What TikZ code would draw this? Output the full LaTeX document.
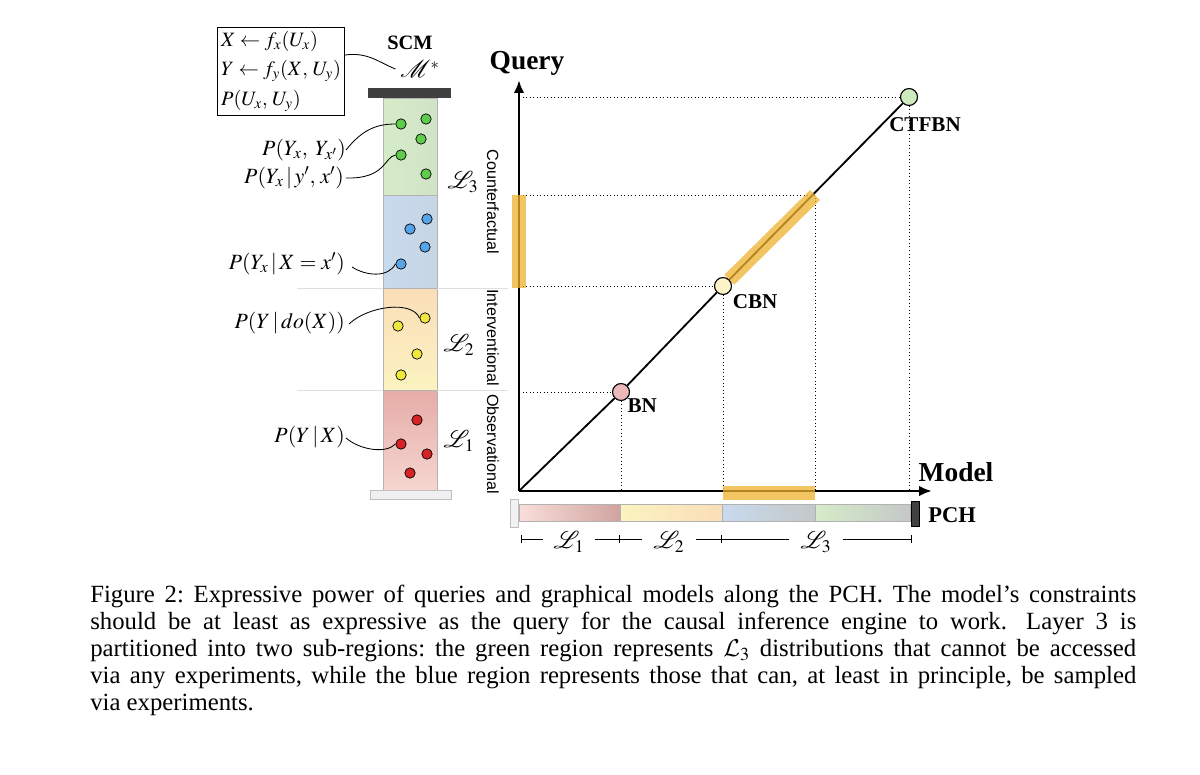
\documentclass[tikz,border=0pt]{standalone}
\usepackage{mathptmx}
\usepackage{mathrsfs}
\usepackage[no-math]{fontspec}
\setmainfont{Liberation Serif}
\setsansfont{Liberation Sans}
\DeclareMathAlphabet{\mathcal}{OMS}{cmsy}{m}{n}
\usepackage{tikz}
\usetikzlibrary{positioning}
\usetikzlibrary{arrows.meta}

\definecolor{gdot}{RGB}{95,205,75}
\definecolor{bdot}{RGB}{85,165,235}
\definecolor{ydot}{RGB}{240,232,60}
\definecolor{rdot}{RGB}{215,35,35}
\definecolor{hlcol}{RGB}{238,178,45}
\definecolor{bncol}{RGB}{235,185,185}
\definecolor{cbncol}{RGB}{252,244,200}
\definecolor{ctfcol}{RGB}{205,235,190}
\definecolor{gtint}{RGB}{214,236,200}
\definecolor{btint}{RGB}{200,218,238}
\definecolor{ytop}{RGB}{250,222,185}
\definecolor{ybot}{RGB}{251,243,192}
\definecolor{rtop}{RGB}{230,172,168}
\definecolor{rbot}{RGB}{246,214,208}
\definecolor{greyish}{RGB}{196,200,200}

\begin{document}
\begin{tikzpicture}[x=0.25mm,y=-0.25mm,
  ball/.style={circle,draw,inner sep=0pt,minimum size=2.6mm,line width=0.5pt},
  model/.style={circle,draw,inner sep=0pt,minimum size=4.2mm,line width=0.7pt},
  lbl/.style={font=\bfseries\fontsize{15}{18}\selectfont},
  eq/.style={font=\fontsize{15.5}{18}\selectfont,inner sep=0pt},
  lname/.style={font=\fontsize{17}{20}\selectfont},
  side/.style={font=\sffamily\fontsize{11.5}{14}\selectfont,rotate=-90},
  hl/.style={line width=3.5mm,draw=hlcol,opacity=0.75},
  guide/.style={dotted,line width=0.5pt},
  lay/.style={draw=gray!60,line width=0.5pt}]
\useasboundingbox (0,0) rectangle (1200,775);

% structural causal model
\node[draw,line width=0.7pt,align=left,anchor=north west,inner xsep=0.9mm,inner ysep=0.9mm,
  font=\fontsize{14.5}{21}\selectfont] (eqs) at (217,27)
  {$X \leftarrow f_x(U_x)$\\ $Y \leftarrow f_y(X,\, U_y)$\\ $P(U_x,\, U_y)$};
\node[font=\bfseries\fontsize{14.5}{17}\selectfont] (scm) at (410,43) {SCM};
\node[font=\fontsize{16}{19}\selectfont] (mstar) at (420,69) {$\mathscr{M}^{*}$};
\draw[line width=0.6pt] (eqs.east |- 0,55) .. controls (368,52) and (378,62) .. (mstar.west);

% the layers
\draw[lay,left color=gtint,right color=gtint!75!greyish] (383,98) rectangle (437,195);
\draw[lay,left color=btint,right color=btint!75!greyish] (383,195) rectangle (437,288);
\draw[lay,top color=ytop,bottom color=ybot] (383,288) rectangle (437,390);
\draw[lay,top color=rtop,bottom color=rbot] (383,390) rectangle (437,490);
\fill[black!75] (368,88) rectangle (451,98);
\draw[fill=gray!12,draw=gray!50] (370,490) rectangle (451,499);
\draw[gray!25,line width=0.6pt] (297,288) -- (383,288) (437,288) -- (508,288);
\draw[gray!25,line width=0.6pt] (297,390) -- (383,390) (437,390) -- (508,390);

\node[ball,fill=gdot] (g1) at (401,124) {};
\node[ball,fill=gdot] (g2) at (426,119) {};
\node[ball,fill=gdot] (g3) at (421,139) {};
\node[ball,fill=gdot] (g4) at (401,155) {};
\node[ball,fill=gdot] (g5) at (426,174) {};
\node[ball,fill=bdot] (b1) at (427,219) {};
\node[ball,fill=bdot] (b2) at (410,229) {};
\node[ball,fill=bdot] (b3) at (425,247) {};
\node[ball,fill=bdot] (b4) at (401,264) {};
\node[ball,fill=ydot] (y1) at (425,318) {};
\node[ball,fill=ydot] (y2) at (398,326) {};
\node[ball,fill=ydot] (y3) at (417,354) {};
\node[ball,fill=ydot] (y4) at (401,375) {};
\node[ball,fill=rdot] (r1) at (417,420) {};
\node[ball,fill=rdot] (r2) at (401,444) {};
\node[ball,fill=rdot] (r3) at (427,454) {};
\node[ball,fill=rdot] (r4) at (410,473) {};

\node[lname] (l3) at (463,182) {$\mathscr{L}_3$};
\node[lname] (l2) at (459,345) {$\mathscr{L}_2$};
\node[lname] (l1) at (459,441) {$\mathscr{L}_1$};

\node[eq,anchor=east] (q1) at (346,150) {$P(Y_x,\; Y_{x'})$};
\node[eq,anchor=east] (q2) at (344,178) {$P(Y_x\,|\,y',\, x')$};
\node[eq,anchor=east] (q3) at (345,264) {$P(Y_x\,|\,X = x')$};
\node[eq,anchor=east] (q4) at (345,323) {$P(Y\,|\,do(X))$};
\node[eq,anchor=east] (q5) at (345,437) {$P(Y\,|\,X)$};
\draw[line width=0.6pt] (q1.east) .. controls (362,130) and (376,124) .. (g1.west);
\draw[line width=0.6pt] (q2.east) ++(2,0) .. controls (386,179) and (384,157) .. (g4.west);
\draw[line width=0.6pt] (q3.east) ++(7,3) .. controls (366,276) and (388,278) .. (b4.west);
\draw[line width=0.6pt] (q4.east) ++(4,1) .. controls (368,306) and (412,300) .. (y1.west);
\draw[line width=0.6pt] (q5.east) ++(1,1) .. controls (360,450) and (386,454) .. (r2.west);

\node[side] (cf) at (493,202) {Counterfactual};
\node[side] (iv) at (493,338) {Interventional};
\node[side] (ob) at (493,444) {Observational};

% query vs model
\coordinate (O) at (519,491);
\coordinate (qtop) at (519,80);
\coordinate (mend) at (932,491);
\node[model,fill=bncol,label={[lbl,anchor=north west,inner sep=0pt]south east:BN}] (bn) at (621,392) {};
\node[model,fill=cbncol,label={[lbl,anchor=north west,inner sep=0pt,xshift=0.8mm,yshift=-0.5mm]south east:CBN}] (cbn) at (723,286) {};
\node[model,fill=ctfcol,label={[lbl,anchor=north,inner sep=0pt,xshift=4mm,yshift=-2.8mm]south:CTFBN}] (ctf) at (909,97) {};
\coordinate (c3) at (815,195);

\draw[guide] (O |- bn) -- (bn) -- (bn |- O);
\draw[guide] (O |- cbn) -- (cbn) -- (cbn |- O);
\draw[guide] (O |- c3) -- (c3) -- (c3 |- O);
\draw[guide] (O |- ctf) -- (ctf) -- (ctf |- O);

\draw[line width=1.3pt] (O) -- (bn) -- (cbn) -- (ctf);
\draw[-{Latex[length=3.2mm,width=2.6mm]},line width=2pt] (O) -- (qtop);
\draw[-{Latex[length=3.2mm,width=2.6mm]},line width=2pt] (O) -- (mend);
\draw[hl] (519,195) -- (519,288);
\draw[hl] (cbn |- 0,493) -- (c3 |- 0,493);
\draw[hl] (cbn) -- (c3);
\node[model,fill=bncol] at (bn) {};
\node[model,fill=cbncol] at (cbn) {};
\node[model,fill=ctfcol] at (ctf) {};

\node[font=\bfseries\fontsize{19.5}{23}\selectfont] (query) at (527,63) {Query};
\node[font=\bfseries\fontsize{19.5}{23}\selectfont] (modl) at (956,472) {Model};
\node[font=\bfseries\fontsize{16}{19}\selectfont] (pch) at (952,515) {PCH};

% the hierarchy bar
\draw[lay,left color=rbot!80,right color=rtop!80!gray] (519,504) rectangle (620,521);
\draw[lay,left color=ybot,right color=ytop] (620,504) rectangle (722,521);
\draw[lay,left color=btint,right color=greyish] (722,504) rectangle (815,521);
\draw[lay,left color=gtint,right color=greyish] (815,504) rectangle (910,521);
\draw[fill=gray!10,draw=gray!50] (510,499) rectangle (518,527);
\draw[fill=black!75,draw=black] (911,501) rectangle (919,526);

\coordinate (t0) at (521,539);
\coordinate (t1) at (619,539);
\coordinate (t2) at (721,539);
\coordinate (t3) at (911,539);
\draw[line width=0.6pt] (t0) -- (t3);
\foreach \t in {t0,t1,t2,t3} \draw[line width=0.6pt] (\t) ++(0,-4) -- ++(0,8);
\node[fill=white,inner xsep=2.6mm,lname] (s1) at (569,542) {$\mathscr{L}_1$};
\node[fill=white,inner xsep=3mm,lname] (s2) at (669,542) {$\mathscr{L}_2$};
\node[fill=white,inner xsep=3mm,lname] (s3) at (816,542) {$\mathscr{L}_3$};

% caption
\node[anchor=north west,inner sep=0pt,text width=261.5mm,align=justify,
  font=\fontsize{17.6}{19.1}\selectfont\frenchspacing] (cap) at (90,585)
  {Figure 2: Expressive power of queries and graphical models along the PCH. The model’s constraints\linebreak
   should be at least as expressive as the query for the causal inference engine to work.\hspace{0.3em} Layer 3 is\linebreak
   partitioned into two sub-regions: the green region represents $\mathcal{L}_3$ distributions that cannot be accessed\linebreak
   via any experiments, while the blue region represents those that can, at least in principle, be sampled\linebreak
   via experiments.};
\end{tikzpicture}
\end{document}
